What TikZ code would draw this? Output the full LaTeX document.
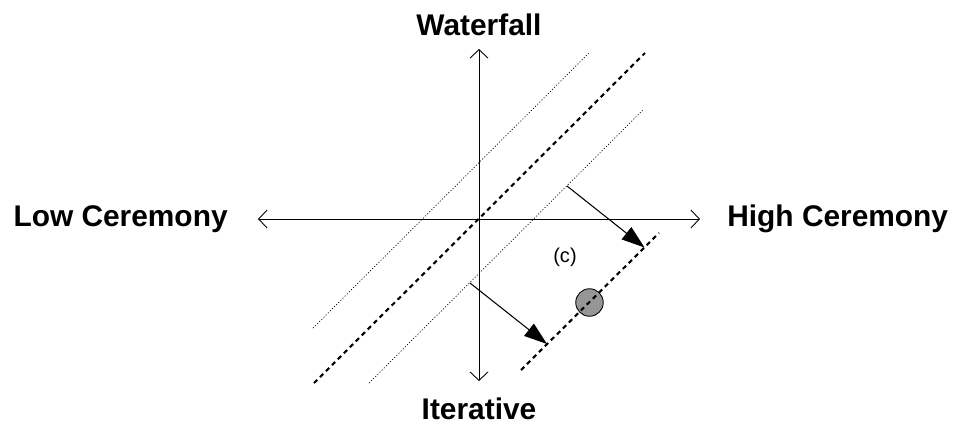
\documentclass[tikz,border=0pt]{standalone}
\usepackage{fontspec}
\setmainfont{Liberation Sans}
\usepackage{tikz}
\usetikzlibrary{arrows.meta,positioning}
\definecolor{blobgray}{RGB}{150,150,150}
\tikzset{
  axis/.style={{Straight Barb[length=1.7mm,width=3.6mm]}-{Straight Barb[length=1.7mm,width=3.6mm]}, line width=0.5pt},
  thinln/.style={line width=0.4pt, dash pattern=on 0.6pt off 1.1pt},
  bigdash/.style={line width=1.2pt, dash pattern=on 2.6pt off 2.2pt},
  shiftarr/.style={-{Triangle[length=4.6mm,width=3.1mm]}, line width=0.6pt},
  lbl/.style={font=\bfseries\fontsize{17}{20}\selectfont, inner sep=0pt},
  clab/.style={font=\fontsize{11.4}{13}\selectfont},
  blob/.style={circle, draw, line width=0.5pt, fill=blobgray, minimum size=5.5mm, inner sep=0pt},
}

\begin{document}
\begin{tikzpicture}
    \useasboundingbox (-9.58,-4.1) rectangle (9.5,4.38);
    % axes
    \coordinate (top) at (0,3.4);
    \coordinate (bot) at (0,-3.24);
    \coordinate (lft) at (-4.42,0);
    \coordinate (rgt) at (4.42,0);
    \draw[axis] (bot) -- (top);
    \draw[axis] (lft) -- (rgt);
    \node[lbl, above=0.25cm of top] (waterfall) {Waterfall};
    \node[lbl, below=0.33cm of bot] (iterative) {Iterative};
    \node[lbl, left=0.6cm of lft] (low) {Low Ceremony};
    \node[lbl, right=0.54cm of rgt] (high) {High Ceremony};
    % band of diagonals
    \coordinate (l1) at (-3.32,-2.18);
    \coordinate (l2) at (2.2,3.32);
    \coordinate (c1) at (-3.3,-3.28);
    \coordinate (c2) at (3.32,3.32);
    \coordinate (r1) at (-2.2,-3.28);
    \coordinate (r2) at (3.3,2.2);
    \draw[thinln] (l1) -- (l2);
    \draw[thinln] (r1) -- (r2);
    \draw[bigdash] (c1) -- (c2);
    % shifted line
    \coordinate (f1) at (0.84,-3.02);
    \coordinate (f2) at (3.6,-0.28);
    \node[blob] (point) at (2.21,-1.67) {};
    \draw[bigdash] (f1) -- (f2);
    \node[clab] (c) at (1.72,-0.76) {(c)};
    \coordinate (s1) at (1.76,0.66);
    \coordinate (e1) at (3.31,-0.57);
    \coordinate (s2) at (-0.18,-1.28);
    \coordinate (e2) at (1.36,-2.5);
    \draw[shiftarr] (s1) -- (e1);
    \draw[shiftarr] (s2) -- (e2);
\end{tikzpicture}
\end{document}
